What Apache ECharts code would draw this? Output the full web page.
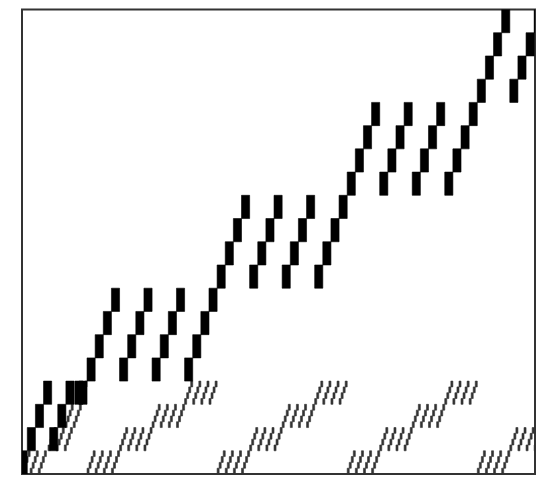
<!DOCTYPE html>
<html>
<head>
<meta charset="utf-8">
<script src="https://cdn.jsdelivr.net/npm/echarts@6/dist/echarts.min.js"></script>
<style>
html,body{margin:0;padding:0;background:#fff;}
#chart{width:541px;height:480px;}
</style>
</head>
<body>
<div id="chart"></div>
<script>
// Black staircase strokes: bottom-left corner of each stroke (block units),
// and how many of its lower blocks are missing
const blackX = [-0.35, 2.4, 3.5, 4.0,  8, 12, 16, 20,  24, 28, 32, 36,  40, 44, 48, 52,  56, 60];
const blackY = [0, 0, 0, 0,  4, 4, 4, 4,  8, 8, 8, 8,  12, 12, 12, 12,  16, 16];
const blackSkip = [0, 1, 3, 3,  0, 0, 0, 0,  0, 0, 0, 0,  0, 0, 0, 0,  0, 0];

// Gray (quarter-scale) strokes: bottom-left corner of each stroke (block units)
const grayX = [
  0, 1, 2,   3.2, 4.2, 5.2,   5.3, 6.3,   7,
  8, 9, 10, 11,   12, 13, 14, 15,   16, 17, 18, 19,   20, 21, 22, 23,
  24, 25, 26, 27,   28, 29, 30, 31,   32, 33, 34, 35,   36, 37, 38, 39,
  40, 41, 42, 43,   44, 45, 46, 47,   48, 49, 50, 51,   52, 53, 54, 55,
  56, 57, 58, 59,   60, 61, 62, 63
];
const grayY = [
  0, 0, 0,   1, 1, 1,   2, 2,   3,
  0, 0, 0, 0,   1, 1, 1, 1,   2, 2, 2, 2,   3, 3, 3, 3,
  0, 0, 0, 0,   1, 1, 1, 1,   2, 2, 2, 2,   3, 3, 3, 3,
  0, 0, 0, 0,   1, 1, 1, 1,   2, 2, 2, 2,   3, 3, 3, 3,
  0, 0, 0, 0,   1, 1, 1, 1
];

const blackData = blackX.map((x, i) => [x, blackY[i], blackSkip[i]]);
const grayData = grayX.map((x, i) => [x, grayY[i], 0]);

function stairRender(step, color, lw) {
  return function (params, api) {
    const x0 = api.value(0), y0 = api.value(1), skip = api.value(2);
    const children = [];
    for (let i = skip; i < 4; i++) {
      const p1 = api.coord([x0 + i * step, y0 + i * step]);
      const p2 = api.coord([x0 + (i + 1) * step, y0 + (i + 1) * step]);
      children.push({
        type: 'rect',
        shape: { x: p1[0], y: p2[1], width: p2[0] - p1[0], height: p1[1] - p2[1] },
        style: { fill: color, stroke: color, lineWidth: lw }
      });
    }
    return { type: 'group', children: children };
  };
}

const chart = echarts.init(document.getElementById('chart'), null, { renderer: 'canvas' });
chart.setOption({
  animation: false,
  backgroundColor: '#fff',
  grid: { left: 22, right: 6, top: 9.5, bottom: 6, show: true, borderColor: '#333', borderWidth: 2, backgroundColor: 'transparent' },
  xAxis: { type: 'value', min: 0, max: 63.1, show: false },
  yAxis: { type: 'value', min: 0, max: 20, show: false },
  series: [
    { type: 'custom', clip: true, data: grayData, renderItem: stairRender(0.25, '#333', 0.6) },
    { type: 'custom', clip: true, data: blackData, renderItem: stairRender(1, '#000', 0.6) }
  ]
});
</script>
</body>
</html>
